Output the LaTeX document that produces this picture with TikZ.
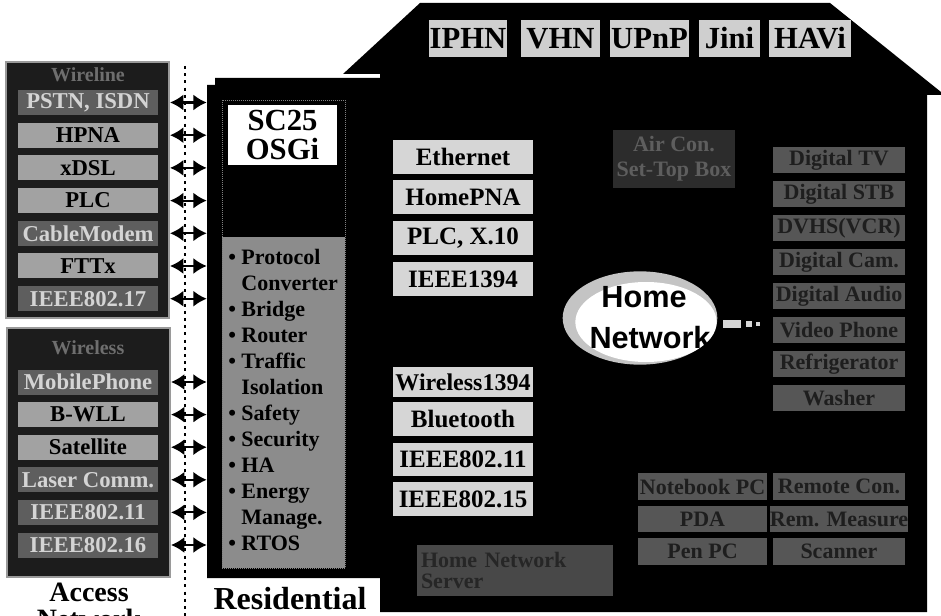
\documentclass[tikz,border=0pt]{standalone}
\usepackage{fontspec}
\setmainfont{Liberation Serif}
\newfontfamily\hsans{Liberation Sans}
\usetikzlibrary{arrows.meta,fit}
\definecolor{panelbg}{HTML}{1C1C1C}
\definecolor{panelbd}{HTML}{9A9A9A}
\definecolor{boxdk}{HTML}{5E5E5E}
\definecolor{boxlt}{HTML}{A2A2A2}
\definecolor{txtlt}{HTML}{D4D4D4}
\definecolor{lgbox}{HTML}{D6D6D6}
\definecolor{tpbox}{HTML}{CFCFCF}
\definecolor{dgbox}{HTML}{565656}
\definecolor{dgtxt}{HTML}{1E1E1E}
\definecolor{gwgray}{HTML}{8C8C8C}
\definecolor{vdbox}{HTML}{2C2C2C}
\definecolor{vdtxt}{HTML}{5E5E5E}
\definecolor{srvbox}{HTML}{484848}
\definecolor{srvtxt}{HTML}{262626}
\definecolor{hdrtxt}{HTML}{6E6E6E}
\definecolor{cloudgray}{HTML}{C4C4C4}
\newcommand\fpx[2]{\fontsize{#1}{#2}\selectfont\bfseries}
% box from pixel corners: style, name, x1, y1, x2, y2, text
\newcommand\bx[7]{%
  \pgfmathsetmacro\bxw{0.75*(#5-(#3))}%
  \pgfmathsetmacro\bxh{0.75*(#6-(#4))}%
  \node[#1, minimum width=\bxw pt, minimum height=\bxh pt] (#2) at ({(#3+#5)/2},{(#4+#6)/2}) {#7};}
\tikzset{
  every node/.style={inner sep=0pt},
  panel/.style={draw=panelbd, line width=1.5pt, fill=panelbg},
  hdr/.style={text=hdrtxt, font=\fpx{15pt}{15pt}},
  lbxL/.style={fill=boxdk, text=txtlt, minimum width=105pt, minimum height=18.75pt, font=\fpx{17pt}{17pt}},
  lbxD/.style={fill=boxlt, text=black, minimum width=105pt, minimum height=18.75pt, font=\fpx{17pt}{17pt}},
  darr/.style={line width=1.6pt, arrows={Latex[length=10pt,width=12pt]-Latex[length=10pt,width=12pt]}},
  midbox/.style={fill=lgbox, text=black, font=\fpx{18.75pt}{18.75pt}},
  topbox/.style={fill=tpbox, text=black, font=\fpx{23pt}{23pt}},
  devbox/.style={fill=dgbox, text=dgtxt, font=\fpx{16.5pt}{16.5pt}},
  biglabel/.style={text=black, font=\fpx{21pt}{21pt}},
  cloudtxt/.style={text=black, font=\hsans\bfseries\fontsize{23pt}{23pt}\selectfont},
}
\begin{document}
\begin{tikzpicture}[x=0.75pt,y=-0.75pt]
\useasboundingbox (0,0) rectangle (941,616);
\fill[white] (0,0) rectangle (941,616);
% house body and roof
\fill[black] (343,74) -- (420,3) -- (830,3) -- (941,92) -- (941,95) -- (927,95)
  -- (927,612) -- (380,612) -- (380,74) -- cycle;
% residential gateway
\fill[black] (207,85) -- (215,85) -- (215,78) -- (380,78) -- (380,578) -- (207,578) -- cycle;
\node[fit={(207,78) (380,578)}] (gw) {};
\fill[gwgray] (222,237) rectangle (345,568);
\draw[gray, densely dotted, line width=0.5pt] (222,100) rectangle (345,568);
\bx{fill=white, align=center, font=\fpx{23pt}{21pt}}{sc}{228}{105}{337}{165}{SC25\\OSGi}
\node[anchor=north west, align=left, text=black, font=\fpx{16.5pt}{19.5pt}] (feat) at (228,249)
 {\textbullet\ Protocol\\\phantom{\textbullet\ }Converter\\\textbullet\ Bridge\\\textbullet\ Router\\
  \textbullet\ Traffic\\\phantom{\textbullet\ }Isolation\\\textbullet\ Safety\\\textbullet\ Security\\
  \textbullet\ HA\\\textbullet\ Energy\\\phantom{\textbullet\ }Manage.\\\textbullet\ RTOS};
% top protocol labels on the roof
\foreach \t/\xa/\xb [count=\i] in {IPHN/429/507, VHN/521/600, UPnP/610/689, Jini/699/760, HAVi/769/851}{
  \bx{topbox}{tp\i}{\xa}{20}{\xb}{57}{\t}
}
% home network media
\foreach \t/\ya/\yb [count=\i] in {Ethernet/140/174, HomePNA/180/214, {PLC, X.10}/221/255, IEEE1394/262/296,
  Bluetooth/402/436, IEEE802.11/443/476, IEEE802.15/482/516}{
  \bx{midbox}{m\i}{393}{\ya}{533}{\yb}{\t}
}
\bx{midbox, font=\fpx{18pt}{18pt}}{mw}{393}{367}{533}{397}{Wireless1394}
% devices
\bx{fill=vdbox, text=vdtxt, align=center, font=\fpx{16.5pt}{19pt}}{av}{613}{130}{735}{188}{Air Con.\\Set-Top Box}
\foreach \t [count=\i] in {Digital TV, Digital STB, DVHS(VCR), Digital Cam., Digital Audio, Video Phone, Refrigerator, Washer}{
  \pgfmathsetmacro\yy{160.5+33.9*(\i-1)}
  \node[devbox, minimum width=99pt, minimum height=19.5pt] (dv\i) at (839,\yy) {\t};
}
\foreach \ta/\tb [count=\i] in {Notebook PC/Remote Con., PDA/Rem. Measure, Pen PC/Scanner}{
  \pgfmathsetmacro\yy{486.5+32.5*(\i-1)}
  \node[devbox, minimum width=96.75pt, minimum height=20pt] (bl\i) at (702.5,\yy) {\ta};
  \node[devbox, minimum width=99pt, minimum height=20pt] (br\i) at (839,\yy) {\tb};
}
\bx{fill=srvbox, text=srvtxt, text width=141pt, align=left, font=\fpx{16.5pt}{16pt}}{srv}{417}{545}{613}{596}{Home Network\\Server}
% home network cloud
\fill[cloudgray] (640,318) ellipse [x radius=58pt, y radius=35pt];
\fill[white] (646,322) ellipse [x radius=53pt, y radius=30pt];
\node[cloudtxt] (hn1) at (644,297) {Home};
\node[cloudtxt] (hn2) at (650,338) {Network};
\node[fill=lgbox, minimum width=14pt, minimum height=6pt] (plug) at (732,324) {};
\node[fill=lgbox, minimum size=4.5pt] (pl1) at (749,324) {};
\node[fill=lgbox, minimum size=3pt] (pl2) at (758,324) {};
% access network panels
\node[panel, fit={(6,62) (169,318)}] (wpanel) {};
\node[panel, fit={(7,328) (170,577)}] (rpanel) {};
\node[hdr] (wh) at (88,75) {Wireline};
\node[hdr] (rh) at (88,348) {Wireless};
\foreach \t/\k [count=\i] in {{PSTN, ISDN}/L, HPNA/D, xDSL/D, PLC/D, CableModem/L, FTTx/D, IEEE802.17/L}{
  \pgfmathsetmacro\yy{102.5+32.7*(\i-1)}
  \node[lbx\k] (tb\i) at (88,\yy) {\t};
  \draw[darr] (wpanel.east |- tb\i) -- (gw.west |- tb\i);
}
\foreach \t/\k [count=\i] in {MobilePhone/L, B-WLL/D, Satellite/D, Laser Comm./L, IEEE802.11/L, IEEE802.16/L}{
  \pgfmathsetmacro\yy{382+32.6*(\i-1)}
  \node[lbx\k] (bb\i) at (88,\yy) {\t};
  \draw[darr] (rpanel.east |- bb\i) -- (gw.west |- bb\i);
}
% dotted boundary
\coordinate (dt) at (185,66);
\coordinate (db) at (185,616);
\draw[line width=2.2pt, dash pattern=on 2.2pt off 3.2pt] (dt) -- (db);
% captions
\node[biglabel] (acc) at (89,592) {Access};
\node[biglabel] (accn) at (89,619) {Network};
\node[biglabel, font=\fpx{24pt}{24pt}] (res) at (290,599) {Residential};
\end{tikzpicture}
\end{document}
